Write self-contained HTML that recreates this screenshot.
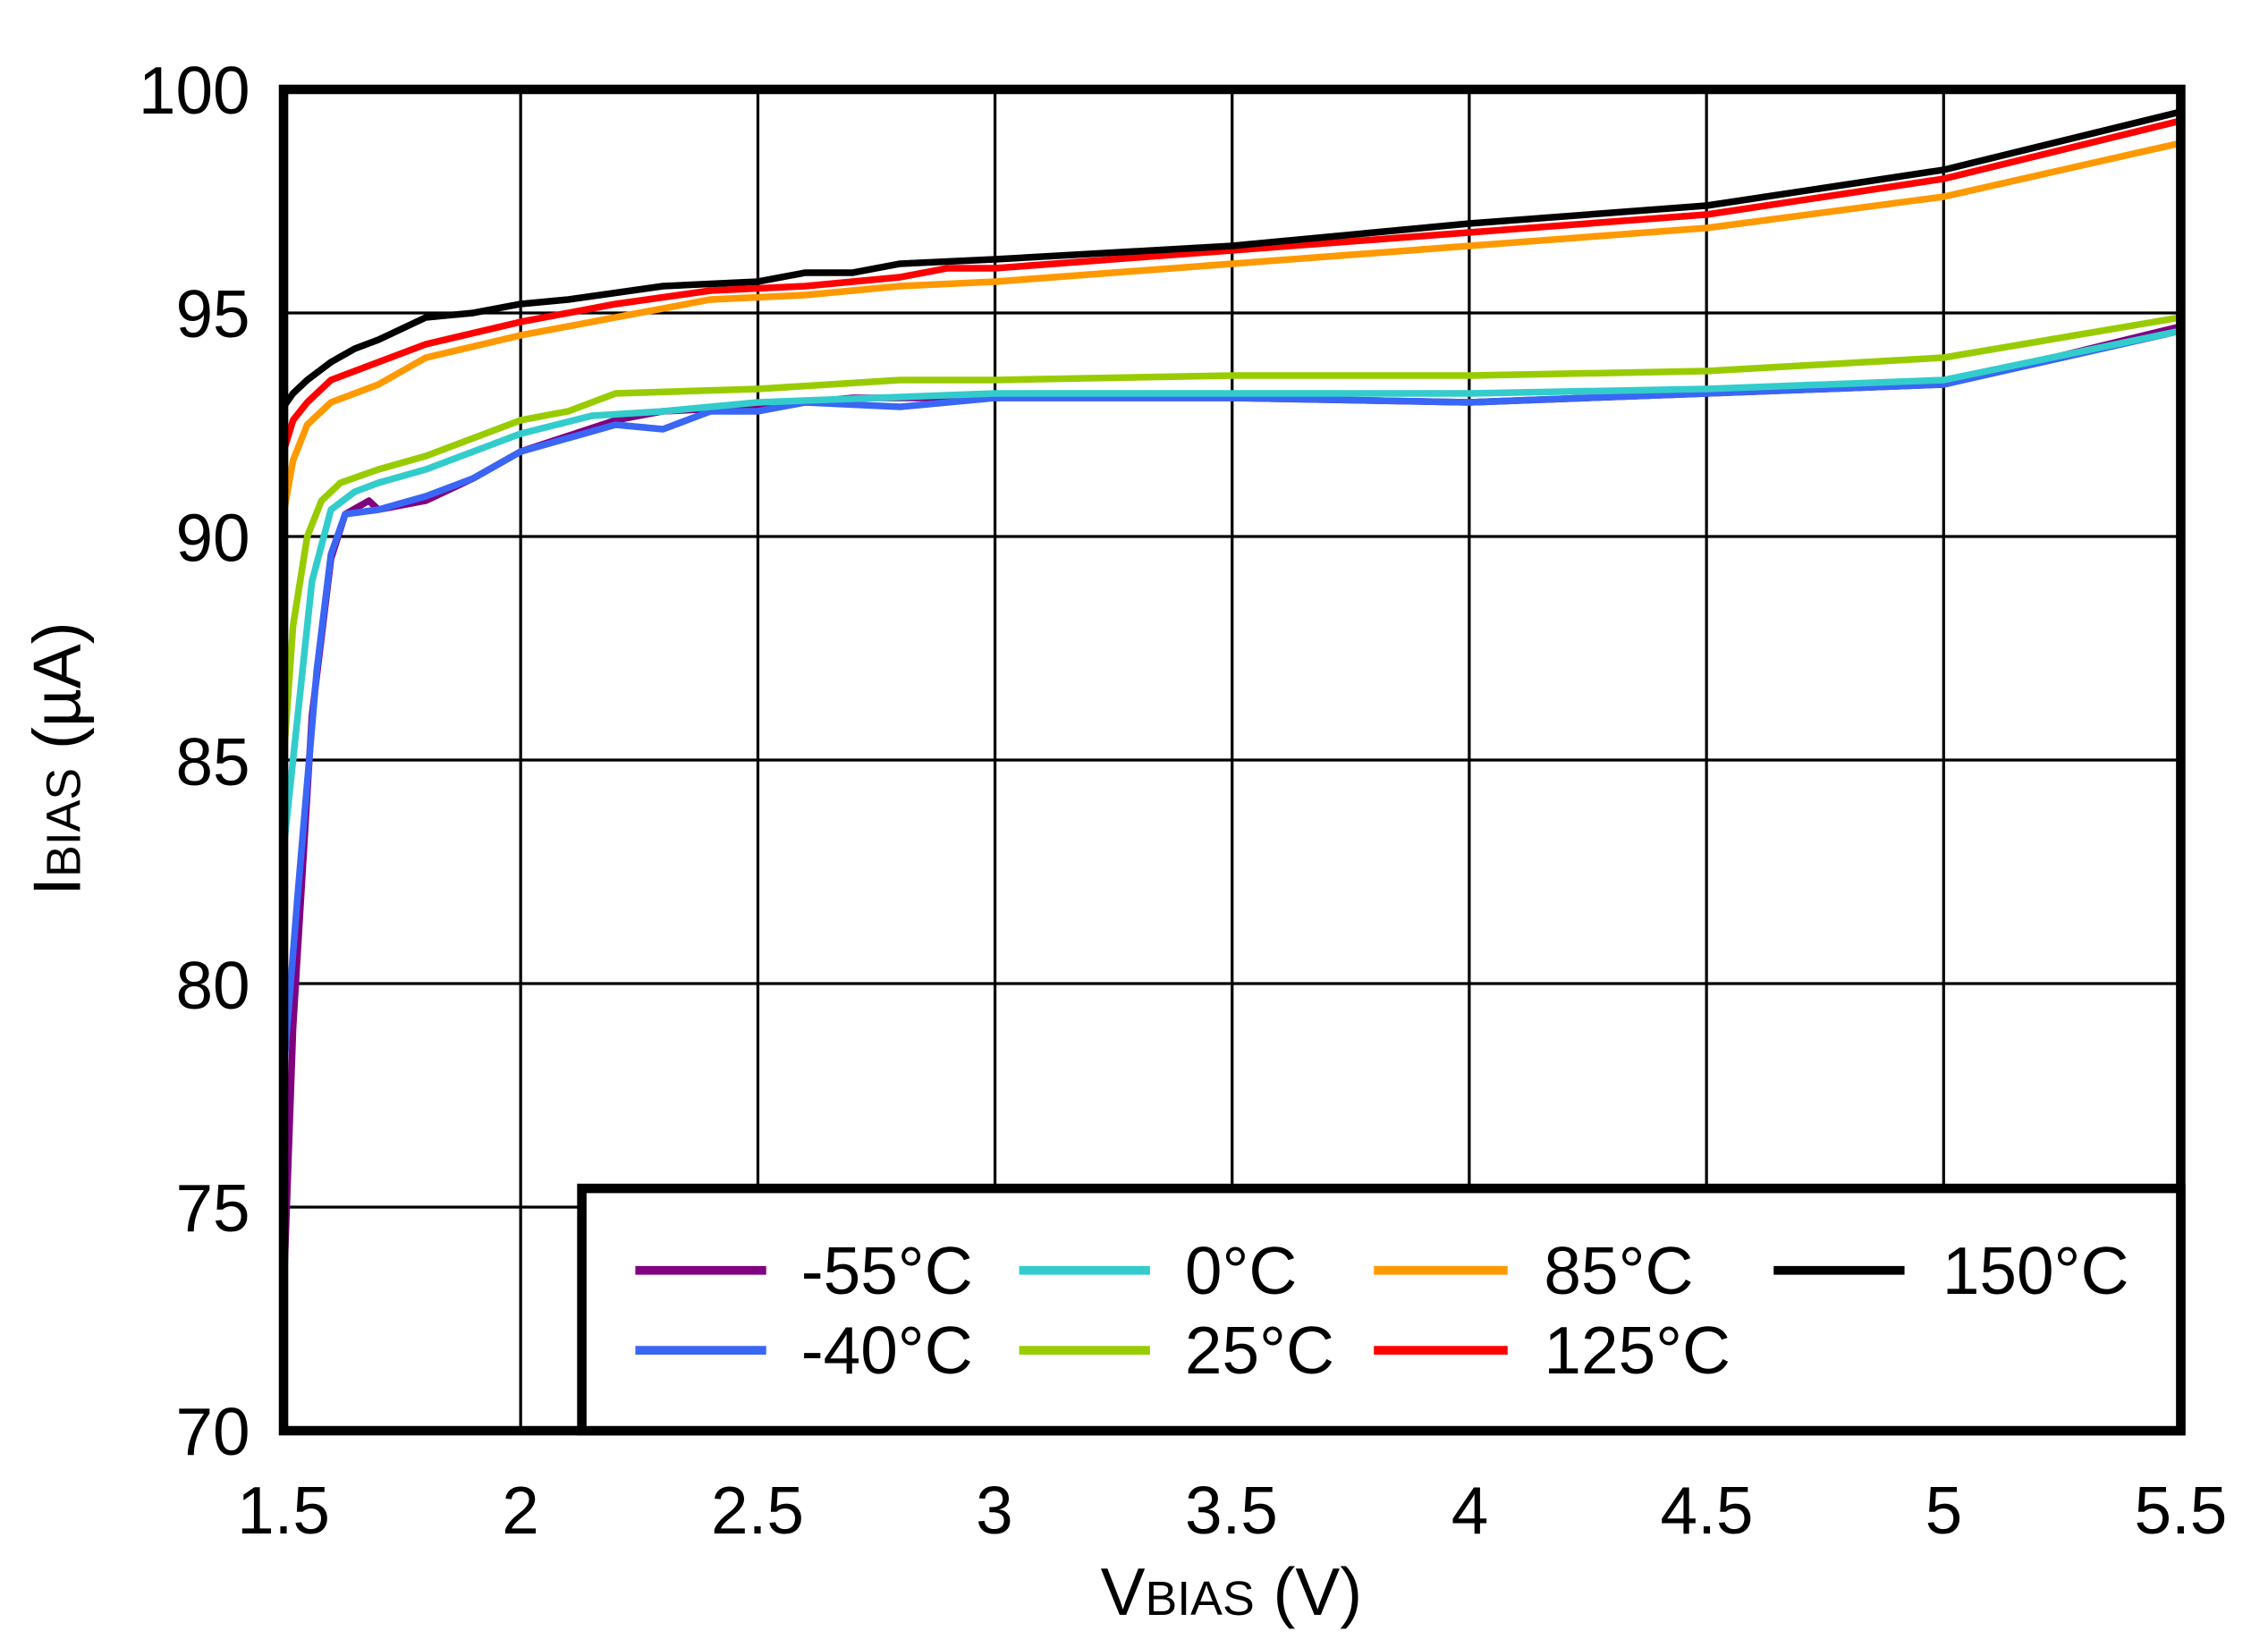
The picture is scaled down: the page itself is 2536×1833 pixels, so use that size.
<!DOCTYPE html>
<html><head><meta charset="utf-8"><style>
html,body{margin:0;padding:0;background:#fff;}
svg{display:block;}
text{font-family:"Liberation Sans",Arial,sans-serif;fill:#000;}
</style></head><body>
<svg width="2536" height="1833" viewBox="0 0 1560 1127.6" xmlns="http://www.w3.org/2000/svg">
<rect x="0" y="0" width="1560" height="1128" fill="#fff"/>
<g stroke="#000" stroke-width="2">
<line x1="358.1" y1="61.5" x2="358.1" y2="984.3"/><line x1="521.3" y1="61.5" x2="521.3" y2="984.3"/><line x1="684.4" y1="61.5" x2="684.4" y2="984.3"/><line x1="847.5" y1="61.5" x2="847.5" y2="984.3"/><line x1="1010.6" y1="61.5" x2="1010.6" y2="984.3"/><line x1="1173.8" y1="61.5" x2="1173.8" y2="984.3"/><line x1="1336.9" y1="61.5" x2="1336.9" y2="984.3"/>
<line x1="195" y1="215.3" x2="1500" y2="215.3"/><line x1="195" y1="369.1" x2="1500" y2="369.1"/><line x1="195" y1="522.9" x2="1500" y2="522.9"/><line x1="195" y1="676.7" x2="1500" y2="676.7"/><line x1="195" y1="830.5" x2="1500" y2="830.5"/>
</g>
<g fill="none" stroke-width="7.5" stroke-linejoin="round" transform="translate(195,61.5) scale(326.25,-30.76) translate(-1.5,-100)">
<polyline vector-effect="non-scaling-stroke" stroke="#800080" points="1.5,73 1.52,79 1.56,86 1.6,89.5 1.63,90.5 1.68,90.8 1.7,90.6 1.8,90.8 1.9,91.3 2,91.9 2.2,92.6 2.3,92.8 2.5,92.9 2.7,93.1 3,93.1 3.5,93.1 4,93.0 4.5,93.2 5,93.4 5.5,94.7"/>
<polyline vector-effect="non-scaling-stroke" stroke="#3a66f5" points="1.5,78 1.53,82 1.57,87 1.6,89.6 1.63,90.5 1.7,90.6 1.8,90.9 1.9,91.3 2,91.9 2.2,92.5 2.3,92.4 2.4,92.8 2.5,92.8 2.6,93.0 2.8,92.9 3,93.1 3.5,93.1 4,93.0 4.5,93.2 5,93.4 5.5,94.6"/>
<polyline vector-effect="non-scaling-stroke" stroke="#33cccc" points="1.5,83 1.53,86 1.56,89 1.6,90.6 1.65,91.0 1.7,91.2 1.8,91.5 2,92.3 2.15,92.7 2.3,92.8 2.5,93.0 3,93.2 3.5,93.2 4,93.2 4.5,93.3 5,93.5 5.5,94.6"/>
<polyline vector-effect="non-scaling-stroke" stroke="#99cc00" points="1.5,85 1.52,88 1.55,90 1.58,90.8 1.62,91.2 1.7,91.5 1.8,91.8 2,92.6 2.1,92.8 2.2,93.2 2.5,93.3 2.8,93.5 3,93.5 3.5,93.6 4,93.6 4.5,93.7 5,94.0 5.5,94.9"/>
<polyline vector-effect="non-scaling-stroke" stroke="#ff9900" points="1.5,90.5 1.52,91.7 1.55,92.5 1.6,93.0 1.7,93.4 1.8,94.0 2,94.5 2.2,94.9 2.4,95.3 2.6,95.4 2.8,95.6 3,95.7 3.5,96.1 4,96.5 4.5,96.9 5,97.6 5.5,98.8"/>
<polyline vector-effect="non-scaling-stroke" stroke="#ff0000" points="1.5,91.9 1.52,92.6 1.55,93.0 1.6,93.5 1.7,93.9 1.8,94.3 2,94.8 2.2,95.2 2.4,95.5 2.6,95.6 2.8,95.8 2.9,96.0 3,96.0 3.5,96.4 4,96.8 4.5,97.2 5,98.0 5.5,99.3"/>
<polyline vector-effect="non-scaling-stroke" stroke="#000" points="1.5,92.9 1.52,93.2 1.55,93.5 1.6,93.9 1.65,94.2 1.7,94.4 1.8,94.9 1.9,95.0 2,95.2 2.1,95.3 2.3,95.6 2.5,95.7 2.6,95.9 2.7,95.9 2.8,96.1 3,96.2 3.5,96.5 4,97.0 4.5,97.4 5,98.2 5.5,99.5"/>
</g>
<rect x="195" y="61.5" width="1305" height="922.8" fill="none" stroke="#000" stroke-width="6.5"/>
<rect x="400.2" y="817.6" width="1099.8" height="166.7" fill="#fff" stroke="#000" stroke-width="6.5"/>
<g stroke-width="6">
<line x1="437" y1="874" x2="527" y2="874" stroke="#800080"/>
<line x1="437" y1="929" x2="527" y2="929" stroke="#3a66f5"/>
<line x1="701" y1="874" x2="791" y2="874" stroke="#33cccc"/>
<line x1="701" y1="929" x2="791" y2="929" stroke="#99cc00"/>
<line x1="945" y1="874" x2="1037" y2="874" stroke="#ff9900"/>
<line x1="945" y1="929" x2="1037" y2="929" stroke="#ff0000"/>
<line x1="1220" y1="874" x2="1310" y2="874" stroke="#000"/>
</g>
<g font-size="46">
<text x="551" y="890">-55°C</text><text x="551" y="945">-40°C</text>
<text x="815" y="890">0°C</text><text x="815" y="945">25°C</text>
<text x="1062" y="890">85°C</text><text x="1062" y="945">125°C</text>
<text x="1336" y="890">150°C</text>
</g>
<g font-size="46" text-anchor="end">
<text x="172" y="78">100</text><text x="172" y="232">95</text><text x="172" y="386">90</text><text x="172" y="540">85</text><text x="172" y="694">80</text><text x="172" y="847">75</text><text x="172" y="1001">70</text>
</g>
<g font-size="46" text-anchor="middle">
<text x="195" y="1055">1.5</text><text x="358" y="1055">2</text><text x="521" y="1055">2.5</text><text x="684" y="1055">3</text><text x="847" y="1055">3.5</text><text x="1011" y="1055">4</text><text x="1174" y="1055">4.5</text><text x="1337" y="1055">5</text><text x="1500" y="1055">5.5</text>
</g>
<text x="847" y="1111" font-size="46" text-anchor="middle">V<tspan font-size="33">BIAS</tspan> (V)</text>
<text transform="translate(55,522) rotate(-90)" font-size="46" text-anchor="middle">I<tspan font-size="33">BIAS</tspan> (µA)</text>
</svg>
</body></html>
